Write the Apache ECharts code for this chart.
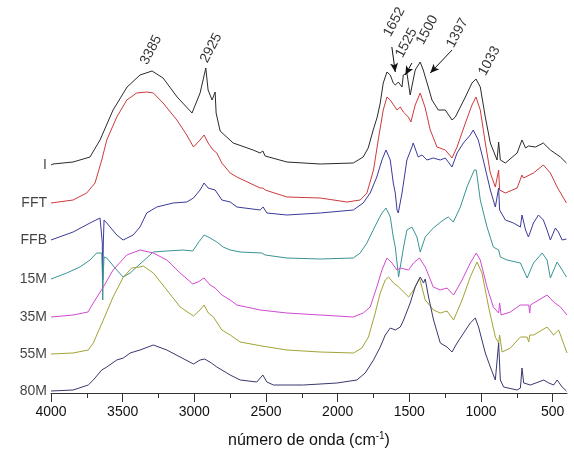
<!DOCTYPE html>
<html>
<head>
<meta charset="utf-8">
<script src="https://cdn.jsdelivr.net/npm/echarts@6/dist/echarts.min.js"></script>
<style>
  html, body { margin: 0; padding: 0; background: #fff; }
  #chart { width: 574px; height: 463px; }
</style>
</head>
<body>
<div id="chart"></div>
<script>
// espectros FTIR, valores (offset vertical incluido, unidades arbitrarias)
var names = ['I', 'FFT', 'FFB', '15M', '35M', '55M', '80M'];
var colors = ['#2b2b2b', '#cc3b3b', '#3a3a9a', '#3a9494', '#d24ad2', '#a3a336', '#38386e'];

var specI = [[4000,228],[3986,229],[3846,231],[3728,236],[3658,253],[3567,283],[3469,306],[3379,318],[3295,322],[3218,315],[3120,296],[3016,280],[2960,300],[2939,313],[2920,325],[2904,303],[2876,293],[2855,301],[2848,280],[2820,262],[2729,250],[2590,243],[2541,240],[2522,242],[2506,237],[2354,231],[2122,229],[1891,230],[1822,236],[1787,245],[1752,263],[1724,276],[1703,290],[1682,310],[1656,321],[1633,318],[1612,310],[1598,308],[1586,306],[1577,311],[1551,306],[1542,318],[1517,320],[1494,298],[1459,323],[1424,331],[1403,323],[1368,306],[1342,293],[1298,283],[1249,283],[1202,273],[1179,276],[1144,286],[1109,296],[1063,310],[1035,314],[1005,306],[970,276],[935,250],[888,233],[877,251],[865,233],[830,230],[748,240],[714,253],[689,245],[669,247],[620,246],[565,250],[516,243],[446,236],[404,230]];

var specFFT = [[4000,190],[3846,193],[3751,200],[3693,210],[3646,233],[3611,253],[3541,276],[3471,293],[3402,300],[3332,301],[3286,300],[3218,290],[3122,273],[3053,258],[3006,246],[2960,253],[2932,258],[2904,250],[2869,243],[2843,240],[2808,230],[2750,220],[2703,216],[2541,205],[2520,205],[2506,203],[2354,196],[2122,195],[1935,191],[1843,193],[1796,200],[1750,223],[1717,253],[1682,283],[1656,296],[1633,293],[1621,291],[1586,283],[1563,286],[1542,281],[1507,276],[1489,271],[1459,288],[1424,300],[1389,285],[1354,263],[1307,246],[1249,243],[1202,235],[1167,246],[1109,270],[1063,288],[1035,296],[1005,283],[970,250],[935,220],[900,206],[877,223],[870,203],[830,200],[748,205],[714,218],[704,215],[634,220],[565,228],[516,220],[469,206],[404,190]];

var specFFB = [[4000,153],[3846,161],[3728,170],[3658,175],[3646,173],[3642,150],[3639,113],[3635,150],[3630,173],[3623,173],[3611,170],[3541,158],[3497,153],[3427,158],[3379,166],[3332,180],[3262,186],[3148,190],[3053,191],[3006,195],[2960,203],[2932,210],[2904,205],[2855,203],[2808,193],[2750,191],[2703,186],[2541,183],[2520,186],[2494,180],[2354,178],[2122,180],[1891,183],[1822,190],[1773,200],[1727,216],[1691,233],[1663,243],[1633,233],[1612,210],[1598,200],[1586,183],[1577,180],[1551,200],[1517,233],[1482,246],[1473,250],[1438,236],[1412,238],[1377,233],[1333,235],[1284,233],[1249,235],[1202,226],[1167,240],[1123,250],[1075,258],[1054,263],[1019,253],[984,233],[935,203],[900,186],[877,205],[870,183],[830,173],[774,170],[725,166],[714,178],[689,163],[669,156],[634,170],[599,178],[565,173],[539,163],[516,153],[481,165],[460,161],[434,153],[404,154]];

var spec15M = [[4000,114],[3890,120],[3798,126],[3728,133],[3681,140],[3646,140],[3642,120],[3639,93],[3635,120],[3630,136],[3611,135],[3541,123],[3497,116],[3448,120],[3402,126],[3332,135],[3288,141],[3192,142],[3078,143],[3011,142],[2974,150],[2932,158],[2890,155],[2843,151],[2799,146],[2750,143],[2680,141],[2529,140],[2522,141],[2506,138],[2354,135],[2122,134],[1891,135],[1843,140],[1796,150],[1752,163],[1717,173],[1691,180],[1663,185],[1633,176],[1612,156],[1598,146],[1575,116],[1540,146],[1517,163],[1482,166],[1447,156],[1424,141],[1389,156],[1333,165],[1263,173],[1228,176],[1193,171],[1144,186],[1098,206],[1047,223],[1033,223],[1005,193],[958,166],[914,146],[877,143],[865,136],[818,133],[725,130],[678,115],[634,130],[573,140],[539,133],[516,115],[469,131],[434,123],[404,116]];

var spec35M = [[4000,76],[3846,78],[3742,81],[3705,90],[3635,106],[3567,123],[3471,138],[3379,143],[3286,140],[3192,133],[3099,120],[3011,109],[2974,111],[2932,115],[2890,108],[2855,105],[2808,98],[2750,93],[2703,88],[2541,83],[2354,80],[2122,78],[1891,76],[1822,80],[1773,86],[1727,106],[1691,123],[1656,135],[1621,130],[1586,123],[1563,125],[1505,123],[1471,130],[1429,135],[1389,126],[1333,106],[1284,103],[1237,105],[1191,98],[1132,113],[1075,130],[1033,140],[1005,133],[958,106],[914,86],[877,80],[870,90],[860,78],[795,81],[725,88],[667,88],[660,80],[655,88],[632,90],[539,98],[493,91],[446,86],[400,78]];

var spec55M = [[4000,39],[3846,40],[3740,43],[3705,50],[3635,73],[3567,96],[3495,116],[3437,125],[3379,126],[3356,127],[3286,120],[3192,103],[3099,86],[3006,77],[2960,83],[2932,88],[2902,80],[2867,76],[2808,63],[2750,58],[2680,51],[2529,47],[2354,43],[2122,41],[1889,40],[1831,45],[1785,56],[1738,80],[1703,100],[1668,113],[1645,116],[1610,110],[1575,106],[1505,96],[1471,103],[1429,115],[1389,93],[1331,83],[1284,80],[1237,82],[1191,73],[1132,93],[1075,116],[1028,131],[993,120],[947,86],[900,56],[877,50],[870,58],[853,41],[795,45],[725,56],[678,56],[667,51],[660,58],[632,58],[539,66],[493,58],[458,63],[400,40]];

var spec80M = [[4000,2],[3846,3],[3740,8],[3705,13],[3646,23],[3611,26],[3541,33],[3495,35],[3448,40],[3379,43],[3286,48],[3192,43],[3099,36],[3006,29],[2960,33],[2928,34],[2881,30],[2843,26],[2773,20],[2750,18],[2680,13],[2564,11],[2522,18],[2494,11],[2448,8],[2238,8],[2005,10],[1866,13],[1808,20],[1750,33],[1703,46],[1668,58],[1633,65],[1598,63],[1563,66],[1540,73],[1494,90],[1459,106],[1424,116],[1401,110],[1389,114],[1366,96],[1331,73],[1284,50],[1237,46],[1202,41],[1167,50],[1121,60],[1075,70],[1040,75],[1017,66],[970,40],[935,26],[900,13],[877,50],[865,13],[842,6],[748,3],[725,5],[714,25],[702,10],[655,8],[562,13],[527,10],[493,8],[469,13],[434,6],[404,2]];

var spectra = [specI, specFFT, specFFB, spec15M, spec35M, spec55M, spec80M];

// etiquetas de bandas: [numero de onda, altura, texto]
var bandLabels = [[3302,343,'3385'],[2883,345,'2925'],[1605,371,'1652'],[1521,350,'1525'],[1375,363,'1500'],[1165,360,'1397'],[942,332,'1033']];
// flechas: [desde, hasta]
var arrows = [[[1622,346],[1598,321]],[[1482,330],[1528,318]],[[1202,343],[1354,320]]];

var majorTicks = [4000, 3500, 3000, 2500, 2000, 1500, 1000, 500];
var minorTicks = [3750, 3250, 2750, 2250, 1750, 1250, 750];

var chart = echarts.init(document.getElementById('chart'));

var series = [];
for (var i = 0; i < names.length; i++) {
  series.push({
    name: names[i],
    type: 'line',
    data: spectra[i],
    showSymbol: false,
    smooth: false,
    lineStyle: { color: colors[i], width: 1 },
    silent: true
  });
}

// nombres de las muestras a la izquierda
series.push({
  type: 'scatter',
  symbolSize: 0,
  silent: true,
  data: names.map(function (n, i) { return [4000, spectra[i][0][1], n]; }),
  label: {
    show: true,
    position: 'left',
    distance: 4,
    color: '#111',
    fontSize: 14,
    fontFamily: 'Arial, "Liberation Sans", sans-serif',
    formatter: function (p) { return p.value[2]; }
  }
});

// numeros de banda girados + flechas
series.push({
  type: 'scatter',
  symbolSize: 0,
  silent: true,
  data: bandLabels,
  label: {
    show: true,
    position: 'inside',
    rotate: 62,
    color: '#000',
    fontSize: 14,
    fontFamily: 'Arial, "Liberation Sans", sans-serif',
    formatter: function (p) { return p.value[2]; }
  },
  markLine: {
    silent: true,
    symbol: ['none', 'arrow'],
    symbolSize: [6, 9],
    label: { show: false },
    lineStyle: { color: '#111', width: 1, type: 'solid' },
    data: arrows.map(function (a) { return [{ coord: a[0] }, { coord: a[1] }]; })
  }
});

var option = {
  animation: false,
  backgroundColor: '#fff',
  grid: { left: 51, right: 7, top: 13, bottom: 70 },
  xAxis: [{
    type: 'value',
    min: 400,
    max: 4000,
    inverse: true,
    name: 'número de onda (cm{sup|-1})',
    nameLocation: 'middle',
    nameGap: 38,
    nameTextStyle: {
      fontSize: 16,
      color: '#111',
      fontFamily: 'Arial, "Liberation Sans", sans-serif',
      rich: {
        sup: { fontSize: 10, padding: [0, 0, 9, 0], color: '#111' }
      }
    },
    axisLine: { show: true, lineStyle: { color: '#333', width: 1 } },
    axisTick: { show: true, inside: false, length: 9, customValues: majorTicks, lineStyle: { color: '#333' } },
    axisLabel: {
      customValues: majorTicks,
      margin: 12,
      fontSize: 14,
      color: '#111',
      fontFamily: 'Arial, "Liberation Sans", sans-serif',
      formatter: function (v) { return String(v); }
    },
    splitLine: { show: false }
  }, {
    type: 'value',
    position: 'bottom',
    min: 400,
    max: 4000,
    inverse: true,
    axisLine: { show: false },
    axisTick: { show: true, inside: false, length: 5, customValues: minorTicks, lineStyle: { color: '#333' } },
    axisLabel: { show: false },
    splitLine: { show: false }
  }],
  yAxis: {
    type: 'value',
    min: 0,
    max: 380,
    show: false
  },
  series: series
};

chart.setOption(option);
</script>
</body>
</html>
